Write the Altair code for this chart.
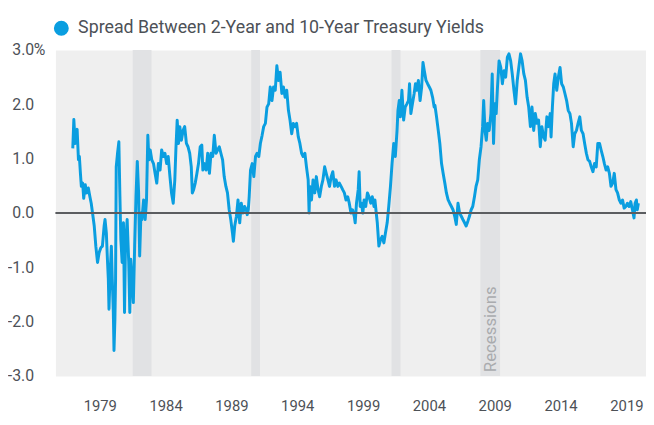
import altair as alt
import pandas as pd

series_name = "Spread Between 2-Year and 10-Year Treasury Yields"

dates = [
    1976.95, 1977.03, 1977.13, 1977.20, 1977.28, 1977.38, 1977.45, 1977.53, 1977.60, 1977.70,
    1977.78, 1977.90, 1978.00, 1978.13, 1978.25, 1978.35, 1978.45, 1978.58, 1978.70, 1978.83,
    1978.95, 1979.08, 1979.20, 1979.33, 1979.40, 1979.50, 1979.58, 1979.65, 1979.70, 1979.78,
    1979.88, 1979.95, 1980.03, 1980.08, 1980.15, 1980.20, 1980.25, 1980.35, 1980.45, 1980.53,
    1980.60, 1980.70, 1980.80, 1980.88, 1980.95, 1981.08, 1981.20, 1981.28, 1981.35, 1981.45,
    1981.55, 1981.65, 1981.75, 1981.85, 1981.95, 1982.03, 1982.13, 1982.20, 1982.33, 1982.45,
    1982.55, 1982.65, 1982.73, 1982.83, 1982.95, 1983.08,
    1983.20, 1983.33, 1983.45, 1983.58, 1983.70, 1983.83, 1983.95, 1984.08, 1984.20, 1984.33,
    1984.45, 1984.58, 1984.70, 1984.78, 1984.88, 1984.98, 1985.08, 1985.20, 1985.33, 1985.45,
    1985.58, 1985.70, 1985.83, 1985.95, 1986.03, 1986.13, 1986.25, 1986.38, 1986.50, 1986.63,
    1986.75, 1986.83, 1986.95, 1987.08, 1987.20, 1987.33, 1987.45, 1987.58, 1987.70, 1987.83,
    1987.95, 1988.08, 1988.20, 1988.33, 1988.45, 1988.58, 1988.70, 1988.83, 1988.95, 1989.08,
    1989.15, 1989.25, 1989.38, 1989.50, 1989.63, 1989.75, 1989.88, 1990.00, 1990.13,
    1990.20, 1990.28, 1990.35, 1990.45, 1990.58, 1990.70, 1990.83, 1990.95, 1991.08, 1991.20,
    1991.33, 1991.45, 1991.58, 1991.70, 1991.83, 1991.95, 1992.08, 1992.20, 1992.33, 1992.45,
    1992.58, 1992.70, 1992.83, 1992.95, 1993.08, 1993.20, 1993.33, 1993.45, 1993.58, 1993.70,
    1993.83, 1993.95, 1994.08, 1994.20, 1994.33, 1994.45, 1994.58, 1994.70, 1994.83, 1994.90,
    1994.95, 1995.08, 1995.20, 1995.33, 1995.45, 1995.58, 1995.70, 1995.83, 1995.95, 1996.08,
    1996.20, 1996.33, 1996.45, 1996.58, 1996.70, 1996.83, 1996.95, 1997.08, 1997.20,
    1997.33, 1997.45, 1997.58, 1997.70, 1997.83, 1997.95, 1998.08, 1998.20, 1998.33, 1998.40,
    1998.50, 1998.63, 1998.70, 1998.78, 1998.88, 1998.98, 1999.08, 1999.20, 1999.33, 1999.45,
    1999.58, 1999.70, 1999.83, 1999.90, 2000.00, 2000.08, 2000.20, 2000.33, 2000.45, 2000.58,
    2000.70, 2000.83, 2000.95, 2001.08, 2001.20, 2001.33, 2001.45, 2001.58, 2001.65, 2001.75,
    2001.83, 2001.95, 2002.08, 2002.20, 2002.33, 2002.45, 2002.53, 2002.63, 2002.75, 2002.88,
    2002.98, 2003.08, 2003.20, 2003.33, 2003.45, 2003.55, 2003.65, 2003.78, 2003.90, 2004.03,
    2004.15, 2004.28, 2004.40,
    2004.46, 2004.58, 2004.71, 2004.83, 2004.96, 2005.08, 2005.21, 2005.33, 2005.46, 2005.58,
    2005.71, 2005.83, 2005.96, 2006.08, 2006.21, 2006.33, 2006.46, 2006.58, 2006.71, 2006.83,
    2006.96, 2007.08, 2007.21, 2007.33, 2007.46, 2007.58, 2007.71, 2007.83, 2007.96, 2008.08,
    2008.16, 2008.26, 2008.36, 2008.46, 2008.58, 2008.71, 2008.81, 2008.91, 2009.01, 2009.11,
    2009.21, 2009.33, 2009.46, 2009.58, 2009.71, 2009.83, 2009.96, 2010.08, 2010.21, 2010.33,
    2010.46, 2010.58, 2010.71, 2010.83, 2010.96, 2011.08, 2011.21, 2011.33, 2011.46, 2011.58,
    2011.71, 2011.83, 2011.96, 2012.08, 2012.21,
    2012.33, 2012.46, 2012.58, 2012.71, 2012.83, 2012.96, 2013.08, 2013.21, 2013.28, 2013.38,
    2013.48, 2013.58, 2013.71, 2013.83, 2013.96, 2014.08, 2014.21, 2014.33, 2014.46, 2014.58,
    2014.71, 2014.83, 2014.96, 2015.08, 2015.21, 2015.33, 2015.46, 2015.58, 2015.71, 2015.83,
    2015.96, 2016.08, 2016.21, 2016.33, 2016.46, 2016.58, 2016.71, 2016.83, 2016.96, 2017.08,
    2017.21, 2017.33, 2017.46, 2017.58, 2017.71, 2017.83, 2017.96, 2018.08, 2018.21, 2018.33,
    2018.46, 2018.58, 2018.71, 2018.83, 2018.96, 2019.08, 2019.21, 2019.33, 2019.46, 2019.58,
    2019.66, 2019.76, 2019.83, 2019.91,
]

spread = [
    1.19, 1.72, 1.28, 1.46, 1.54, 0.98, 1.04, 0.73, 0.49, 0.55,
    0.27, 0.52, 0.37, 0.46, 0.30, 0.18, 0.00, -0.24, -0.61, -0.91,
    -0.73, -0.64, -0.61, -0.24, -0.12, -0.37, -0.85, -1.22, -1.77, -1.16,
    -0.61, -1.22, -1.83, -2.53, -1.95, -1.22, 0.85, 1.10, 1.31, 0.30,
    -0.49, -0.91, -0.18, -1.83, -0.61, -0.12, -0.91, -1.83, -0.85, -1.22,
    -1.65, -0.61, 0.30, 0.95, 0.37, -0.79, 0.00, -0.12, 0.24, -0.12,
    0.24, 1.43, 0.98, 1.16, 0.98, 0.91,
    0.73, 0.55, 0.91, 0.79, 1.16, 1.04, 1.10, 0.91, 1.04, 0.67,
    0.37, 0.18, 0.61, 1.16, 1.71, 1.28, 1.59, 1.34, 1.52, 1.59,
    1.28, 1.22, 1.10, 0.85, 0.37, 0.43, 0.55, 0.73, 0.91, 1.22,
    1.25, 0.79, 0.91, 0.79, 1.10, 0.73, 1.10, 1.04, 1.43, 1.10,
    1.16, 1.22, 1.10, 0.98, 0.67, 0.49, 0.37, 0.06, -0.12, -0.37,
    -0.52, -0.24, -0.06, 0.24, -0.18, 0.18, 0.00, 0.12, 0.06,
    -0.03, 0.06, 0.30, 0.79, 0.91, 0.67, 1.04, 1.10, 1.04, 1.28,
    1.43, 1.59, 1.65, 1.95, 2.01, 2.32, 2.07, 2.32, 2.26, 2.71,
    2.44, 2.59, 2.20, 2.32, 2.13, 2.26, 1.89, 1.71, 1.46, 1.65,
    1.59, 1.65, 1.40, 1.28, 1.10, 1.04, 1.10, 0.85, 0.61, 0.00,
    0.49, 0.24, 0.61, 0.37, 0.67, 0.43, 0.30, 0.49, 0.61, 0.85,
    0.73, 0.61, 0.49, 0.67, 0.76, 0.49, 0.61, 0.49, 0.55,
    0.49, 0.43, 0.37, 0.24, 0.30, 0.18, 0.00, 0.06, -0.06, -0.18,
    0.18, 0.43, 0.76, 0.12, 0.18, 0.00, 0.24, 0.12, 0.37, 0.30,
    0.18, 0.30, 0.12, 0.24, 0.00, -0.18, -0.61, -0.49, -0.43, -0.55,
    -0.37, -0.18, 0.12, 0.49, 0.91, 1.28, 1.04, 1.52, 1.89, 2.07,
    1.77, 2.26, 1.71, 1.95, 2.01, 2.07, 2.38, 1.83, 2.01, 2.20,
    2.38, 2.26, 2.44, 2.07, 2.32, 2.77, 2.62, 2.44, 2.38, 2.32,
    2.26, 2.13, 1.95,
    1.98, 1.77, 1.52, 1.28, 0.91, 0.73, 0.55, 0.37, 0.24, 0.18,
    0.12, 0.06, -0.06, -0.21, 0.18, 0.00, -0.06, -0.12, -0.18, -0.24,
    -0.15, -0.06, 0.06, 0.12, 0.30, 0.49, 0.61, 0.98, 1.22, 1.59,
    2.07, 1.52, 1.34, 1.65, 1.52, 1.83, 2.56, 1.28, 2.01, 1.83,
    2.32, 2.80, 2.68, 2.38, 2.62, 2.50, 2.87, 2.93, 2.80, 2.56,
    2.26, 2.01, 2.44, 2.68, 2.93, 2.80, 2.56, 2.44, 2.13, 1.95,
    1.59, 1.95, 1.52, 1.83, 1.65,
    1.71, 1.22, 1.59, 1.40, 1.34, 1.77, 1.59, 1.83, 1.40, 1.95,
    2.38, 2.56, 2.26, 2.50, 2.68, 2.38, 2.32, 2.20, 2.07, 1.89,
    1.83, 1.65, 1.22, 1.46, 1.52, 1.65, 1.77, 1.52, 1.46, 1.28,
    1.10, 0.98, 0.95, 0.85, 0.76, 0.91, 0.85, 1.28, 1.28, 1.16,
    1.04, 0.91, 0.79, 0.85, 0.73, 0.49, 0.55, 0.73, 0.43, 0.37,
    0.24, 0.18, 0.24, 0.09, 0.12, 0.18, 0.12, 0.21, 0.06, -0.09,
    0.18, 0.24, 0.06, 0.18,
]

recession_start = [1981.50, 1990.50, 2001.16, 2007.91]
recession_end = [1982.93, 1991.17, 2001.84, 2009.41]
recession_label = ["Recessions"]

x_ticks = [1979, 1984, 1989, 1994, 1999, 2004, 2009, 2014, 2019]
y_ticks = [-3, -2, -1, 0, 1, 2, 3]
x_domain = [1975.63, 2020.49]
y_domain = [-3, 3]

BLUE = "#0a9ee0"
TEXT = "#4d5157"

df = pd.DataFrame({"year": dates, "spread": spread})
rec = pd.DataFrame({"start": recession_start, "end": recession_end})
one = pd.DataFrame({"label": [series_name], "pct": ["%"], "rlabel": recession_label,
                    "top": [y_ticks[-1]], "zero": [0]})

xs = alt.Scale(domain=x_domain, nice=False, zero=False)
ys = alt.Scale(domain=y_domain, nice=False, zero=False)

x_axis = alt.Axis(values=x_ticks, format="d", grid=False, domain=False, ticks=False,
                  labelPadding=23, labelFontSize=15, labelColor=TEXT, labelFont="Roboto",
                  labelFlush=False, title=None)
y_axis = alt.Axis(values=y_ticks, grid=False, domain=False, ticks=False,
                  labelExpr="(datum.value < 0 ? '-' : '') + format(abs(datum.value), '.1f')",
                  labelPadding=22, labelFontSize=16, labelColor=TEXT, labelFont="Roboto",
                  title=None)

bands = alt.Chart(rec).mark_rect(color="#e1e2e4").encode(
    x=alt.X("start:Q", scale=xs, axis=x_axis),
    x2="end:Q",
)

line = alt.Chart(df).mark_line(color=BLUE, strokeWidth=3, strokeJoin="round").encode(
    x=alt.X("year:Q", scale=xs, axis=x_axis),
    y=alt.Y("spread:Q", scale=ys, axis=y_axis),
)

zero_rule = alt.Chart(one).mark_rule(color="#5b5d60", strokeWidth=2).encode(
    y=alt.Y("zero:Q", scale=ys, axis=y_axis),
)

rec_text = alt.Chart(one).mark_text(
    angle=270, align="left", baseline="middle", fontSize=17, font="Roboto", color="#a9abae"
).encode(
    x=alt.datum(2008.72, scale=xs),
    y=alt.datum(-2.93, scale=ys),
    text="rlabel:N",
)

pct_text = alt.Chart(one).mark_text(
    align="left", baseline="middle", fontSize=16, font="Roboto", color=TEXT
).encode(
    x=alt.value(-22),
    y=alt.Y("top:Q", scale=ys, axis=y_axis),
    text="pct:N",
)

legend_dot = alt.Chart(one).mark_circle(size=227, color=BLUE, opacity=1).encode(
    x=alt.value(6), y=alt.value(-22)
)
legend_txt = alt.Chart(one).mark_text(
    align="left", baseline="middle", fontSize=18, font="Roboto", color=TEXT
).encode(
    x=alt.value(23), y=alt.value(-22), text="label:N"
)

chart = alt.layer(
    bands, line, zero_rule, rec_text, pct_text, legend_dot, legend_txt
).properties(
    width=598, height=330,
    padding={"left": 48, "top": 40, "right": 0, "bottom": 40},
    autosize=alt.AutoSizeParams(type="none"),
    background="white",
).configure_view(
    fill="#efefef", stroke="transparent"
)

chart.save("out.html", embed_options={"renderer": "svg", "actions": False})
